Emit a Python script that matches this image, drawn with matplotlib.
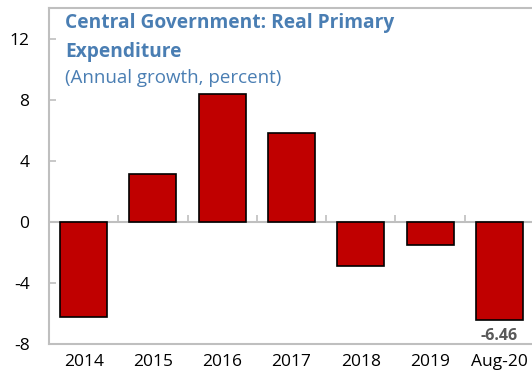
import numpy as np
import matplotlib.pyplot as plt

plt.rcParams['font.family'] = ['Open Sans', 'DejaVu Sans']

categories = ["2014", "2015", "2016", "2017", "2018", "2019", "Aug-20"]
growth = [-6.26, 3.1, 8.38, 5.83, -2.9, -1.55, -6.46]
last_label = "-6.46"

grey = "#BFBFBF"
blue = "#4A7EB3"

fig = plt.figure(figsize=(5.32, 3.86), dpi=100)
ax = fig.add_axes([49 / 532, 1 - 344 / 386, 485 / 532, 336 / 386])

x = np.arange(len(categories))
ax.bar(x, growth, width=0.68, color="#C00000", edgecolor="black", linewidth=1.2, zorder=3)

ax.set_xlim(-0.5, len(categories) - 0.5)
ax.set_ylim(-8, 14)
ax.set_yticks([-8, -4, 0, 4, 8, 12])
ax.set_yticklabels(["-8", "-4", "0", "4", "8", "12"])
ax.set_xticks(x)
ax.set_xticklabels(categories)
ax.tick_params(axis="x", length=0, pad=7, labelsize=12.5)
ax.tick_params(axis="y", direction="in", length=5, color=grey, width=1.2, pad=14, labelsize=12.5)

for side in ["left", "bottom", "top"]:
    ax.spines[side].set_color(grey)
    ax.spines[side].set_linewidth(1.5)
ax.spines["right"].set_visible(False)

# zero line with category boundary marks
ax.axhline(0, color=grey, linewidth=1.5, zorder=2)
bounds = np.arange(len(categories) + 1) - 0.5
ax.vlines(bounds[1:], 0, 0.45, color=grey, linewidth=1.2, zorder=2)

ax.text(x[-1], growth[-1] - 0.5, last_label, ha="center", va="top",
        fontsize=11.5, fontweight="bold", color="#595959")

# title block
fig.text(65 / 532, 1 - 28 / 386, "Central Government: Real Primary",
         ha="left", va="baseline", fontsize=13.8, fontweight="bold", color=blue)
fig.text(65 / 532, 1 - 57 / 386, "Expenditure",
         ha="left", va="baseline", fontsize=13.8, fontweight="bold", color=blue)
fig.text(65 / 532, 1 - 83 / 386, "(Annual growth, percent)",
         ha="left", va="baseline", fontsize=13.5, color=blue)

fig.savefig("out.png", dpi=100)
